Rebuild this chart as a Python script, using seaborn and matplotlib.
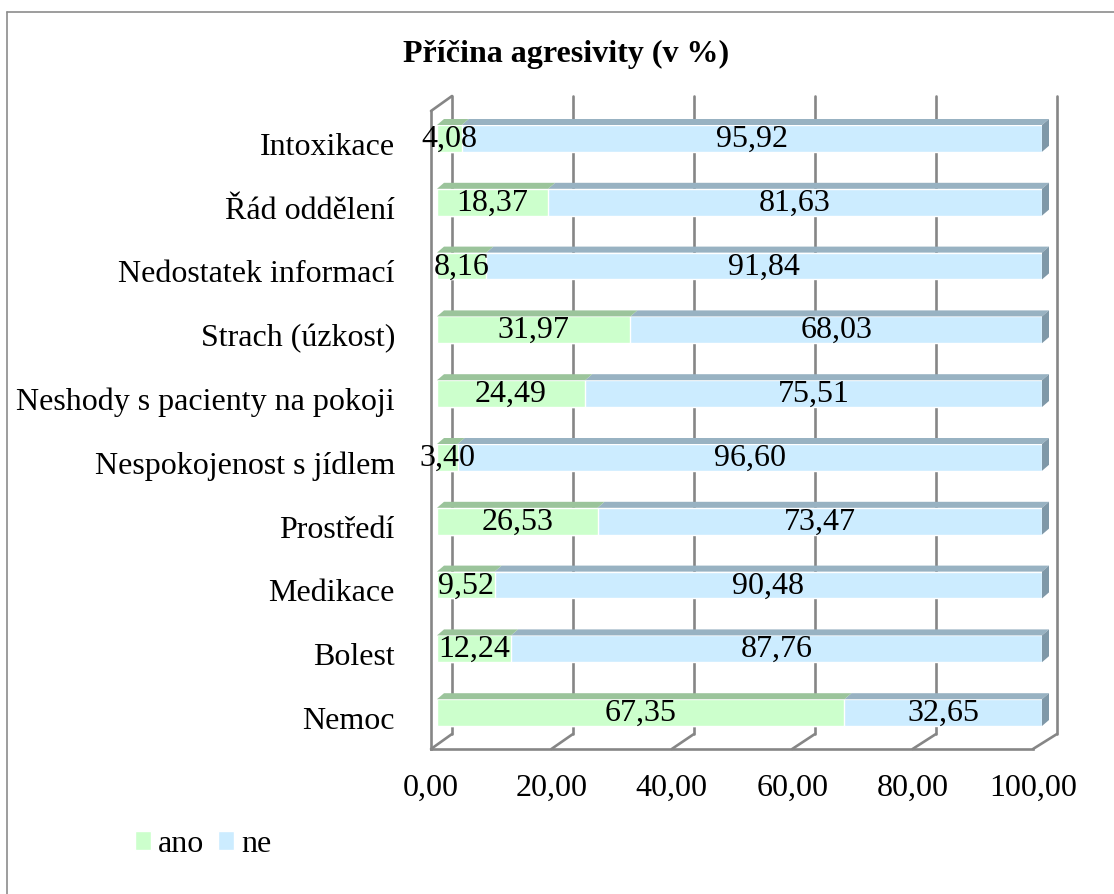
import matplotlib
matplotlib.use("Agg")
import matplotlib.pyplot as plt
from matplotlib.patches import Polygon, ConnectionPatch
from matplotlib.lines import Line2D
from matplotlib.transforms import IdentityTransform
import seaborn as sns
import pandas as pd

# ---- data -------------------------------------------------------------
categories = [
    "Intoxikace",
    "Řád oddělení",
    "Nedostatek informací",
    "Strach (úzkost)",
    "Neshody s pacienty na pokoji",
    "Nespokojenost s jídlem",
    "Prostředí",
    "Medikace",
    "Bolest",
    "Nemoc",
]
ano = [4.08, 18.37, 8.16, 31.97, 24.49, 3.40, 26.53, 9.52, 12.24, 67.35]
ne = [95.92, 81.63, 91.84, 68.03, 75.51, 96.60, 73.47, 90.48, 87.76, 32.65]
x_ticks = [0, 20, 40, 60, 80, 100]
x_tick_labels = ["0,00", "20,00", "40,00", "60,00", "80,00", "100,00"]
series_names = ["ano", "ne"]
title = "Příčina agresivity (v %)"

# ---- style ------------------------------------------------------------
sns.set_style("white")
plt.rcParams["font.family"] = ["Liberation Serif", "DejaVu Serif"]
plt.rcParams["text.color"] = "black"

GREEN = "#CCFFCC"
GREEN_TOP = "#9BC49B"
BLUE = "#CCECFF"
BLUE_TOP = "#98B2C2"
BLUE_SIDE = "#7F98A8"
GRID = "#868686"
FS = 23
LW = 1.9
DEPTH_X, DEPTH_Y = 7, 6   # bar depth in pixels

W, H, DPI = 1114, 895, 100
fig = plt.figure(figsize=(W / DPI, H / DPI), dpi=DPI, facecolor="white")


def box(left, top, right, bottom):
    return [left / W, 1 - bottom / H, (right - left) / W, (bottom - top) / H]


# back wall carrying the vertical gridlines
wall = fig.add_axes(box(452, 97, 1057, 735), zorder=0)
# front plane with the axis lines, ticks and tick labels
ax = fig.add_axes(box(431, 112, 1033, 750), zorder=1)
# bars sit slightly behind the front plane
bx = fig.add_axes(box(437, 107.5, 1042, 745.5), zorder=2)

n = len(categories)

# back wall
wall.set_xlim(0, 100)
wall.set_ylim(0, 1)
wall.set_xticks(x_ticks)
wall.set_yticks([])
wall.grid(axis="x", color=GRID, lw=LW)
wall.tick_params(length=0, labelbottom=False, labelleft=False)
for s in wall.spines.values():
    s.set_visible(False)
wall.patch.set_visible(False)
for gl in wall.get_xgridlines():
    gl.set_clip_on(False)

# front axes
ax.set_xlim(0, 100)
ax.set_ylim(n - 0.5, -0.5)
ax.patch.set_visible(False)
ax.set_xticks(x_ticks, x_tick_labels)
ax.set_yticks(range(n), categories)
ax.set_yticks([i - 0.5 for i in range(n + 1)], minor=True)
ax.tick_params(axis="x", direction="out", length=5.8, width=LW, color=GRID,
               labelsize=FS, labelcolor="black", pad=11)
ax.tick_params(axis="y", which="major", length=0, labelsize=FS,
               labelcolor="black", pad=26)
ax.tick_params(axis="y", which="minor", direction="out", length=6.5, width=LW,
               color=GRID)
for side in ("top", "right"):
    ax.spines[side].set_visible(False)
for side in ("left", "bottom"):
    ax.spines[side].set_color(GRID)
    ax.spines[side].set_linewidth(LW)
ax.set_xlabel("")
ax.set_ylabel("")

# floor diagonals linking the front axis to the back wall
for v in x_ticks:
    con = ConnectionPatch(xyA=(v, n - 0.5), coordsA=ax.transData,
                          xyB=(v, 0), coordsB=wall.transData,
                          color=GRID, lw=LW)
    fig.add_artist(con)
con = ConnectionPatch(xyA=(0, -0.5), coordsA=ax.transData,
                      xyB=(0, 1), coordsB=wall.transData, color=GRID, lw=LW)
fig.add_artist(con)

# ---- bars ---------------------------------------------------------------
df = pd.DataFrame({"category": categories, "ano": ano, "ne": ne})
df["total"] = df["ano"] + df["ne"]

sns.barplot(data=df, x="total", y="category", orient="h", color=BLUE,
            saturation=1, width=0.42, ax=bx, label=series_names[1])
sns.barplot(data=df, x="ano", y="category", orient="h", color=GREEN,
            saturation=1, width=0.42, ax=bx, label=series_names[0])
handles, labels = bx.get_legend_handles_labels()
if bx.get_legend() is not None:
    bx.get_legend().remove()
bx.set_xlim(0, 100)
bx.set_ylim(n - 0.5, -0.5)
bx.axis("off")

blue_bars = bx.containers[0]
green_bars = bx.containers[1]


def to_px(x, y):
    return bx.transData.transform((x, y))


def top_face(x0, x1, y_top, color):
    (a, b) = to_px(x0, y_top)
    (c, _) = to_px(x1, y_top)
    pts = [(a, b), (c, b), (c + DEPTH_X, b + DEPTH_Y), (a + DEPTH_X, b + DEPTH_Y)]
    bx.add_patch(Polygon(pts, closed=True, facecolor=color, edgecolor="none",
                         transform=IdentityTransform(), clip_on=False))


for i in range(n):
    bp = blue_bars[i]
    gp = green_bars[i]
    y_top = bp.get_y()                    # inverted axis: smaller y is higher
    y_bot = bp.get_y() + bp.get_height()
    x_end = bp.get_x() + bp.get_width()
    x_split = gp.get_x() + gp.get_width()
    top_face(x_split, x_end, y_top, BLUE_TOP)
    top_face(0, x_split, y_top, GREEN_TOP)
    # right end side face
    (xe, yt) = to_px(x_end, y_top)
    (_, yb) = to_px(x_end, y_bot)
    pts = [(xe, yb), (xe, yt), (xe + DEPTH_X, yt + DEPTH_Y), (xe + DEPTH_X, yb + DEPTH_Y)]
    bx.add_patch(Polygon(pts, closed=True, facecolor=BLUE_SIDE, edgecolor="none",
                         transform=IdentityTransform(), clip_on=False))

# value labels centred on each segment
for i in range(n):
    a, b = ano[i], ne[i]
    bx.text(a / 2, i, f"{a:.2f}".replace(".", ","), ha="center", va="center",
            fontsize=FS, color="black", clip_on=False, zorder=5)
    bx.text(a + b / 2, i, f"{b:.2f}".replace(".", ","), ha="center", va="center",
            fontsize=FS, color="black", clip_on=False, zorder=5)

# ---- title, legend, frame ----------------------------------------------
fig.text(566 / W, 1 - 62 / H, title, ha="center", va="baseline",
         fontsize=FS, fontweight="bold", color="black")

order = [labels.index(s) for s in series_names]
fig.legend([handles[k] for k in order], [labels[k] for k in order],
           loc="center left", bbox_to_anchor=(135 / W, 1 - 845 / H),
           ncol=2, frameon=False, fontsize=FS, handlelength=0.5,
           handleheight=0.55, handletextpad=0.22, columnspacing=0.44,
           borderpad=0, borderaxespad=0, labelcolor="black")

fig.add_artist(Line2D([7 / W, 7 / W], [0, 1 - 12.5 / H], color="#8C8C8C", lw=1.2))
fig.add_artist(Line2D([7 / W, 1], [1 - 12.5 / H, 1 - 12.5 / H], color="#8C8C8C", lw=1.2))

fig.savefig("out.png", dpi=DPI, facecolor="white")
